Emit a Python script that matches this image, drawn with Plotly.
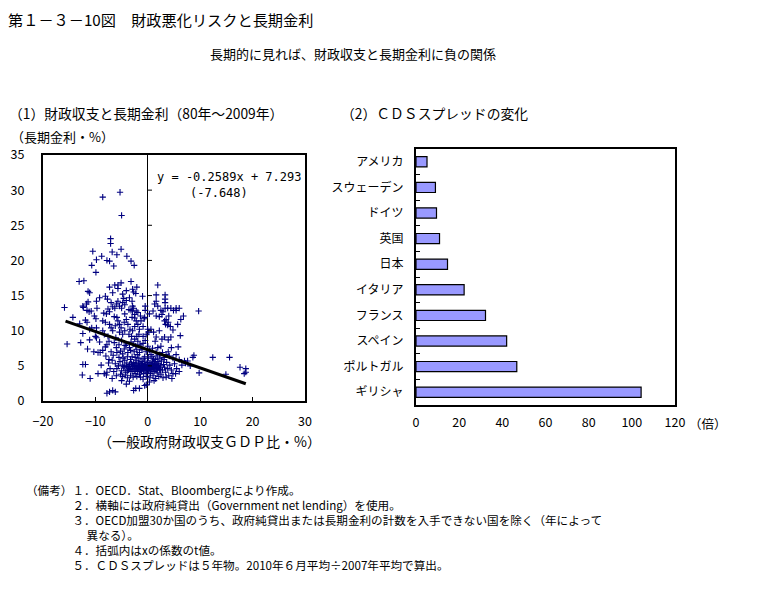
import plotly.graph_objects as go

# page body has an 8px default margin; figure is sized so it fits the window
OFF = 8
W, H = 757 - OFF, 609 - OFF
FONT = "Noto Sans CJK JP"

# ---------------- data: scatter (general gov. balance %GDP, long-term rate %) ----------------
balance_gdp = [
    -8.6, -5.3, -5.0, -7.1, -7.1, -10.5, -5.1, -6.8, -8.8, -9.8, -7.8, -7.3, -5.9, -4.0, -3.2, -2.6, -10.7, -6.5, -9.9,
    -13.1, -12.2, -3.2, 1.9, -7.3, -6.3, -5.7, -5.7, -5.1, -4.1, -2.9, -2.1, -11.4, -11.1, -2.7, -2.3, -6.7, -9.2, -8.1, -7.7, 3.3, 1.6, -1.0, -4.8,
    -11.7, -11.4, -12.4, -12.3, -15.9, -9.8, -9.7, -11.6, -10.8, -11.2, -10.2, -9.9, -7.0, -6.7, -6.3, -7.6, -7.3, -7.9, -5.7, -6.0, -5.4, -5.0,
    -4.8, -4.4, -4.1, -4.6, -3.5, -3.0, -2.9, -2.7, -2.2, -2.9, -3.2, -2.5, -1.9, -2.5, -0.5, -0.5, -0.7, 1.3, 1.6, 1.9, 2.5, 2.9, 3.3, 3.3,
    3.3, 3.8, 4.4, 5.4, 6.0, 4.9, 5.4, 1.6, 2.7, 3.2, 3.4, 3.5, 3.8, 4.3, 6.8, 9.7, 6.3, 5.7, 1.0, -3.6, -4.4, -6.4, -8.4, -1.4, 0.3, 2.2, 4.0, 3.9,
    -14.3, -13.0, -11.9, -11.6, -11.1, -10.7, -9.8, -8.6, -8.1, -8.6, -8.3, -7.3, -7.0, -6.7, -6.2, -5.7, -5.4, -5.1, -5.4, -4.8, -4.1, -3.8, -3.4,
    -3.6, -2.9, -2.5, -2.2, -1.9, -1.6, -1.7, -2.1, -2.5, -1.3, -0.9, -0.6, -0.3, 0.0, 0.2, 0.6, 1.1, 1.6, 2.7, 3.2, 3.9, 4.4, 6.2, -12.4, -10.0,
    -7.6, -6.1, -4.4, -3.1, -0.9, 2.2, 4.8, -5.9, -3.0, -4.5,
    -15.4, -11.1, -9.8, -9.2, -9.5, -9.1, -8.6, -8.1, -7.8, -7.4, -6.4, -6.0, -5.5, -5.2, -4.8, -4.5, -4.1, -3.8, -3.5, -3.2, -3.0, -2.6, -2.3,
    -1.9, -1.6, -1.3, -0.9, -0.6, -0.3, 0.0, 0.3, 0.6, 1.1, 1.6, 1.9, 2.3, 2.8, 3.1, 3.5, 4.1, 4.8, 5.4, 6.0, 7.0, 7.6, 8.6, 12.4, 15.6, -7.0,
    -6.6, -5.9, -5.0, -4.3, -3.3, -2.0, -1.1, 0.9, 2.5, -12.8, -11.5, -10.3, -8.0, -7.4, -2.8, -2.1, -1.5, -0.5, 1.4, 3.9, 4.5, 5.8,
    -6.8, -6.2, -5.9, -5.6, -5.3, -5.0, -4.8, -4.6, -4.4, -4.2, -4.0, -3.8, -3.7, -3.5, -3.3, -3.2, -3.0, -2.9, -2.7, -2.6, -2.5, -2.4, -2.3,
    -2.2, -2.1, -2.0, -1.9, -1.8, -1.7, -1.6, -1.5, -1.4, -1.3, -1.2, -1.1, -1.0, -0.9, -0.8, -0.7, -0.6, -0.5, -0.4, -0.3, -0.2, -0.1, 0.0,
    0.1, 0.2, 0.3, 0.4, 0.5, 0.6, 0.7, 0.8, 0.9, 1.0, 1.1, 1.2, 1.3, 1.4, 1.5, 1.6, 1.7, 1.8, 1.9, 2.0, 2.1, 2.2, 2.4, 2.5, 2.6, 2.8, 3.0, 3.2,
    3.4, 3.6, 3.8, 4.0, 4.2, 4.5, 4.8, 5.1, 5.5, 6.0, 3.1, 2.3,
    -4.5, -4.1, -3.9, -3.6, -3.4, -3.1, -2.8, -2.6, -2.4, -2.2, -2.0, -1.8, -1.6, -1.4, -1.2, -1.0, -0.8, -0.6, -0.4, -0.2, 0.0, 0.2, 0.4, 0.6,
    0.8, 1.0, 1.2, 1.4, 1.6, 1.8, 2.0, 2.2, 2.4, -5.2, -4.8, -4.3, -3.9, -3.3, -2.8, -2.1, -1.4, -0.9, -0.3, 0.4, 1.0, 1.5, 2.1, 2.9, 3.5, 4.6,
    -5.5, -4.7, -3.9, -2.4, -1.7, -0.9, 0.1, 0.8, 1.8, -6.5, -7.2, -7.8, -8.3, -7.5, -8.9, -6.0, -6.8, 5.3, 6.5, 7.2, 8.1, -9.5, -7.9, -11.0,
    -12.5, -12.4, -11.9, -7.8, -7.3, -6.7, -6.2, -4.1, -2.7, -2.3, -1.6, -0.6, -0.3, 0.3, 1.2, -3.5, -5.0, 17.6, 18.7, 18.7, 18.4, 9.8, 14.9, 8.8,
]
long_rate = [
    29.0, 29.7, 26.4, 23.1, 22.4, 21.3, 21.6, 21.2, 20.6, 20.1, 20.0, 19.9, 20.8, 20.6, 19.9, 19.3, 19.3, 19.2, 18.3,
    17.0, 17.1, 17.0, 16.5, 16.2, 16.5, 16.5, 16.0, 16.8, 15.7, 15.9, 16.2, 15.6, 15.4, 15.5, 15.3, 15.4, 14.7, 14.9, 14.5, 15.1, 15.1, 14.9, 15.2,
    13.8, 14.1, 13.5, 13.3, 13.3, 14.2, 13.2, 12.9, 12.8, 12.7, 12.1, 11.7, 14.0, 13.4, 13.2, 13.1, 12.7, 12.4, 14.2, 13.8, 13.5, 13.2,
    14.0, 13.7, 14.3, 14.6, 14.7, 14.2, 13.5, 13.2, 12.8, 12.8, 12.9, 12.3, 12.6, 11.8, 13.5, 12.9, 11.7, 13.8, 14.2, 13.5, 12.9, 12.7, 14.5, 14.0,
    13.2, 13.2, 13.2, 13.2, 13.2, 12.9, 12.9, 12.1, 12.3, 11.4, 10.9, 11.6, 10.8, 10.6, 12.1, 12.8, 11.6, 10.9, 12.8, 13.0, 12.4, 12.0, 12.5, 12.1, 12.4, 12.0, 12.1, 11.2,
    11.9, 11.0, 11.5, 11.2, 10.2, 10.4, 10.4, 11.4, 11.2, 10.0, 9.5, 10.9, 10.4, 10.0, 10.7, 11.4, 10.9, 10.4, 9.8, 9.5, 11.6, 10.9, 10.2,
    9.5, 10.0, 10.6, 11.4, 10.9, 10.2, 9.5, 9.2, 8.8, 11.4, 10.6, 11.9, 9.5, 10.2, 9.8, 10.2, 9.8, 9.1, 8.8, 9.1, 8.7, 9.1, 9.3, 9.6, 9.2,
    9.2, 9.0, 10.0, 9.2, 9.2, 10.0, 10.1, 11.9, 11.9, 11.2,
    8.1, 8.7, 9.0, 8.4, 6.9, 6.9, 7.2, 7.7, 8.0, 8.5, 8.3, 7.6, 8.0, 7.1, 6.7, 7.4, 8.1, 6.9, 7.6, 8.4, 6.3, 7.0, 7.8,
    8.5, 6.9, 7.6, 8.2, 6.3, 7.0, 7.8, 7.2, 6.6, 6.0, 6.9, 7.6, 6.6, 6.9, 5.9, 6.6, 6.4, 6.1, 6.6, 5.9, 5.7, 5.7, 6.2, 6.2, 6.2, 7.0,
    6.5, 6.9, 8.6, 7.9, 7.2, 6.6, 7.3, 7.5, 7.8, 8.3, 7.4, 7.0, 6.4, 5.9, 8.1, 7.3, 8.0, 8.6, 8.5, 7.0, 7.6, 7.7,
    5.8, 5.3, 4.6, 5.0, 5.6, 4.3, 5.1, 4.7, 5.8, 4.1, 5.4, 4.8, 4.4, 5.2, 5.9, 4.6, 4.2, 5.0, 5.5, 4.4, 4.9, 3.9, 5.3,
    4.6, 5.8, 4.2, 4.9, 5.4, 4.5, 3.8, 5.1, 4.7, 5.6, 4.3, 4.9, 5.3, 4.5, 3.9, 5.0, 5.7, 4.4, 4.8, 5.2, 4.1, 4.7, 5.5,
    4.3, 5.0, 4.6, 5.4, 3.9, 4.8, 5.2, 4.4, 5.7, 4.6, 5.0, 4.2, 5.4, 4.7, 5.9, 4.4, 5.1, 4.0, 5.6, 4.8, 5.3, 4.5, 5.0, 3.8, 5.7, 4.4, 5.2, 4.8,
    4.1, 5.5, 4.6, 3.6, 5.1, 4.4, 3.9, 5.3, 4.6, 4.2, 6.2, 6.1,
    4.9, 5.0, 4.3, 4.9, 4.5, 5.3, 4.7, 5.1, 4.6, 5.0, 4.6, 4.8, 5.0, 4.4, 5.1, 4.6, 5.0, 4.6, 5.1, 4.5, 4.9, 4.6, 4.9, 4.5,
    5.0, 5.3, 4.8, 5.2, 4.8, 4.6, 5.0, 4.7, 4.4, 3.8, 3.5, 3.7, 3.3, 3.6, 3.4, 3.5, 3.4, 3.1, 3.5, 3.3, 3.6, 3.2, 3.5, 3.3, 3.4, 3.2,
    6.2, 6.1, 6.3, 6.2, 6.1, 6.0, 6.1, 6.3, 6.4, 4.2, 4.6, 4.1, 3.9, 5.4, 5.1, 3.6, 3.2, 3.9, 5.1, 5.4, 5.0, 3.9, 3.7, 3.2,
    3.7, 5.2, 5.2, 1.1, 1.3, 1.5, 1.3, 2.4, 1.5, 1.8, 1.8, 2.2, 2.3, 2.7, 2.9, 2.8, 2.9, 4.8, 4.6, 4.1, 3.9, 4.0, 3.8, 6.5,
]

# regression (as printed on the chart)
reg_slope = -0.2589
reg_intercept = 7.293
reg_tvalue = -7.648
reg_x_ends = [-15.7, 18.7]

left_x_ticks = [-20, -10, 0, 10, 20, 30]
left_y_ticks = [0, 5, 10, 15, 20, 25, 30, 35]

# ---------------- data: CDS spread change (times) ----------------
countries = ["アメリカ", "スウェーデン", "ドイツ", "英国", "日本",
             "イタリア", "フランス", "スペイン", "ポルトガル", "ギリシャ"]
cds_ratio = [5.1, 9.0, 9.5, 10.9, 14.6, 22.3, 32.2, 42.0, 46.7, 104.3]
right_x_ticks = [0, 20, 40, 60, 80, 100, 120]

notes_lines = [
    "（備考）１．OECD．Stat、Bloombergにより作成。",
    "　　　　２．横軸には政府純貸出（Government net lending）を使用。",
    "　　　　３．OECD加盟30か国のうち、政府純貸出または長期金利の計数を入手できない国を除く（年によって",
    "　　　　　 異なる）。",
    "　　　　４．括弧内はxの係数のt値。",
    "　　　　５．ＣＤＳスプレッドは５年物。2010年６月平均÷2007年平均で算出。",
]

# ---------------- figure ----------------
def px_x(p):
    return (p - OFF) / W

def px_y(p):
    return 1 - (p - OFF) / H

fig = go.Figure()

fig.add_trace(go.Scatter(
    x=balance_gdp, y=long_rate, mode="markers",
    marker=dict(symbol="cross-thin", size=4.5, color="#000080",
                line=dict(color="#000080", width=1.1)),
    xaxis="x", yaxis="y", showlegend=False, hoverinfo="x+y"))

reg_y = [reg_slope * v + reg_intercept for v in reg_x_ends]
fig.add_trace(go.Scatter(
    x=reg_x_ends, y=reg_y, mode="lines",
    line=dict(color="black", width=3),
    xaxis="x", yaxis="y", showlegend=False, hoverinfo="skip"))

fig.add_trace(go.Bar(
    x=cds_ratio, y=countries, orientation="h", width=0.4,
    marker=dict(color="#9999FF", line=dict(color="black", width=1.2)),
    xaxis="x2", yaxis="y2", showlegend=False))

tickfont = dict(family=FONT, size=12.5, color="black")
catfont = dict(family=FONT, size=12, color="black")

fig.update_layout(
    width=W, height=H,
    margin=dict(l=0, r=0, t=0, b=0, autoexpand=False),
    paper_bgcolor="white", plot_bgcolor="white",
    xaxis=dict(domain=[px_x(43), px_x(305)], range=[-20, 30], automargin=False,
               tickvals=left_x_ticks, showgrid=False,
               zeroline=True, zerolinecolor="black", zerolinewidth=1,
               showline=True, linecolor="black", linewidth=2, mirror=True,
               ticks="inside", ticklen=4, tickcolor="black",
               tickfont=tickfont, ticklabelstandoff=8, anchor="y"),
    yaxis=dict(domain=[px_y(401), px_y(155)], range=[0, 35], automargin=False,
               tickvals=left_y_ticks, showgrid=False, zeroline=False,
               showline=True, linecolor="black", linewidth=2, mirror=True,
               ticks="", tickfont=tickfont, ticklabelstandoff=14, anchor="x"),
    xaxis2=dict(domain=[px_x(416), px_x(675)], range=[0, 120], automargin=False,
                tickvals=right_x_ticks, showgrid=False, zeroline=False,
                showline=True, linecolor="black", linewidth=2, mirror=True,
                ticks="", tickfont=tickfont, ticklabelstandoff=5, anchor="y2"),
    yaxis2=dict(domain=[px_y(405), px_y(149)], range=[9.5, -0.5], automargin=False,
                type="category", showgrid=False, zeroline=False,
                showline=True, linecolor="black", linewidth=2, mirror=True,
                ticks="inside", tickson="boundaries", ticklen=4, tickcolor="black",
                tickfont=catfont, ticklabelstandoff=8, anchor="x2"),
)

# small tick marks on the x=0 line of the scatter
for v in left_y_ticks[1:-1]:
    fig.add_shape(type="line", xref="x", yref="y", x0=0, x1=0.8, y0=v, y1=v,
                  line=dict(color="black", width=1))

def txt(x, y, s, size=12, anchor="left", family=FONT):
    fig.add_annotation(x=x, y=y, xref="paper", yref="paper", text=s,
                       showarrow=False, xanchor=anchor, yanchor="middle",
                       font=dict(family=family, size=size, color="black"))

txt(px_x(6), px_y(19), "第１－３－10図　財政悪化リスクと長期金利", size=15.2)
txt(px_x(353), px_y(53), "長期的に見れば、財政収支と長期金利に負の関係", size=13, anchor="center")
txt(px_x(7), px_y(113), "（1）財政収支と長期金利（80年～2009年）", size=13.8)
txt(px_x(9), px_y(136), "（長期金利・%）", size=13)
txt(px_x(209), px_y(441), "（一般政府財政収支ＧＤＰ比・%）", size=14, anchor="center")
txt(px_x(339), px_y(113), "（2）ＣＤＳスプレッドの変化", size=13.8)
txt(px_x(687), px_y(423), "（倍）", size=12.5)

fig.add_annotation(x=15.5, y=31.9, xref="x", yref="y",
                   text=f"y = {reg_slope}x + {reg_intercept}", showarrow=False,
                   font=dict(family="DejaVu Sans Mono", size=12, color="black"))
fig.add_annotation(x=13.5, y=29.6, xref="x", yref="y",
                   text=f"({reg_tvalue})", showarrow=False,
                   font=dict(family="DejaVu Sans Mono", size=12, color="black"))

fig.add_annotation(x=px_x(24), y=px_y(480), xref="paper", yref="paper",
                   text="<br>".join(notes_lines), showarrow=False,
                   xanchor="left", yanchor="top", align="left",
                   font=dict(family=FONT, size=11.6, color="black"))

fig.write_html("out.html")
